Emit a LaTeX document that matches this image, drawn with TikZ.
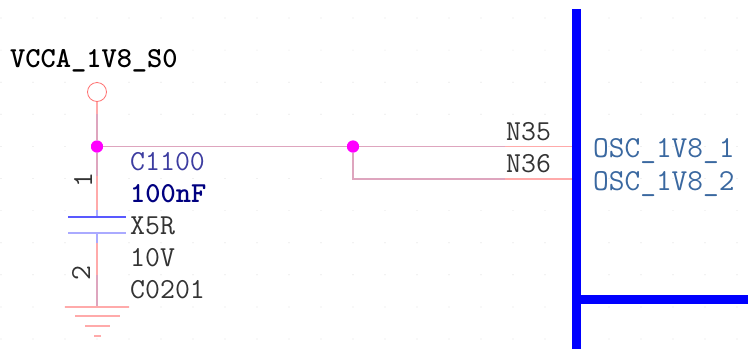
\documentclass[tikz,border=0pt]{standalone}
\definecolor{wirepk}{RGB}{255,170,170}
\definecolor{wiremv}{RGB}{222,165,190}
\definecolor{platewr}{RGB}{170,170,255}
\definecolor{junctmg}{RGB}{255,0,255}
\definecolor{busblue}{RGB}{0,0,255}
\definecolor{portblue}{RGB}{58,104,160}
\definecolor{refblue}{RGB}{60,60,160}
\tikzset{
 wirepink/.style={draw=wirepk,line width=1.5pt},
 wiremauve/.style={draw=wiremv,line width=1.5pt},
 platewire/.style={draw=platewr,line width=1.5pt},
 gndbar/.style={draw=wirepk,line width=2pt},
 busline/.style={draw=busblue,line width=9pt},
 dotnode/.style={circle,fill=junctmg,inner sep=0pt,minimum size=12pt},
 ringnode/.style={circle,draw=red!55!white,fill=white,line width=0.8pt,inner sep=0pt,minimum size=19pt},
 txt/.style={font=\fontsize{29}{30}\selectfont\ttfamily,inner sep=0pt,anchor=base west,text=black!80},
 netlabel/.style={txt,font=\fontsize{29}{30}\selectfont\ttfamily\bfseries,text=black},
 pinlabel/.style={txt,rotate=90,anchor=center},
 portlabel/.style={txt,font=\fontsize{30.5}{31}\selectfont\ttfamily,text=portblue},
}
\begin{document}
\begin{tikzpicture}[x=1pt,y=-1pt]
 \useasboundingbox (0,0) rectangle (748,349);
 % background dots
 \foreach \i in {0,...,23}
  \foreach \j in {0,...,10}
   \fill[black!12] (1+32*\i,18+32.1*\j) circle (0.6);
 % rails
 \coordinate (bustop) at (576.5,9);
 \coordinate (busbot) at (576.5,349);
 \coordinate (busjoin) at (576.5,299.5);
 \coordinate (busend) at (748,299.5);
 \coordinate (n35end) at (572,146.5);
 \coordinate (n36end) at (572,179);
 % power pin and junctions
 \node[ringnode] (vcc) at (97,92) {};
 \node[dotnode] (j1) at (97,146.5) {};
 \node[dotnode] (j2) at (353,146.5) {};
 \coordinate (bend) at (353,179);
 \coordinate (n35a) at (505,146.5);
 \coordinate (n36a) at (505,179);
 % capacitor
 \coordinate (capl1) at (68,217);
 \coordinate (capr1) at (126,217);
 \coordinate (capl2) at (68,233);
 \coordinate (capr2) at (126,233);
 \coordinate (captop) at (97,217);
 \coordinate (capbot) at (97,233);
 \coordinate (stub1) at (97,210);
 \coordinate (stub2) at (97,243);
 \coordinate (lead1) at (97,176);
 \coordinate (lead2) at (97,275);
 \coordinate (vccend) at (97,114);
 % ground
 \coordinate (gnd) at (97,306.5);
 \coordinate (gl1) at (65,306.5);
 \coordinate (gr1) at (129,306.5);
 \coordinate (gl2) at (75,316);
 \coordinate (gr2) at (120,316);
 \coordinate (gl3) at (85,326);
 \coordinate (gr3) at (110,326);
 \coordinate (gl4) at (94,335.5);
 \coordinate (gr4) at (101,335.5);
 % wires
 \draw[wirepink] (vcc)--(vccend);
 \draw[wiremauve] (vccend)--(j1)--(lead1);
 \draw[wirepink] (lead1)--(stub1);
 \draw[platewire] (stub1)--(captop);
 \draw[platewire] (capbot)--(stub2);
 \draw[wirepink] (stub2)--(lead2);
 \draw[wiremauve] (lead2)--(gnd);
 \draw[wiremauve] (j1)--(j2)--(n35a);
 \draw[wirepink] (n35a)--(n35end);
 \draw[wiremauve] (j2)--(bend)--(n36a);
 \draw[wirepink] (n36a)--(n36end);
 \draw[draw=blue!65!white,line width=1.2pt] (capl1)--(capr1);
 \draw[draw=platewr,line width=2pt] (capl2)--(capr2);
 \draw[gndbar] (gl1)--(gr1);
 \draw[gndbar] (gl2)--(gr2);
 \draw[gndbar] (gl3)--(gr3);
 \draw[gndbar] (gl4)--(gr4);
 % bus
 \draw[busline] (bustop)--(busbot);
 \draw[busline] (busjoin)--(busend);
 % redraw junctions over wires
 \node[dotnode] at (j1) {};
 \node[dotnode] at (j2) {};
 % labels
 \node[netlabel] (vccname) at (10,67) {VCCA\_1V8\_S0};
 \node[txt,text=refblue] (refdes) at (130,170) {C1100};
 \node[txt,font=\fontsize{29}{30}\selectfont\ttfamily\bfseries,text=blue!50!black] (capval) at (130,202) {100nF};
 \node[txt] (dielec) at (130,234) {X5R};
 \node[txt] (volt) at (130,266) {10V};
 \node[txt] (pkg) at (130,298) {C0201};
 \node[pinlabel] (pin1) at (83,180) {1};
 \node[pinlabel] (pin2) at (81,273) {2};
 \node[txt] (n35) at (506,140) {N35};
 \node[txt] (n36) at (506,172) {N36};
 \node[portlabel] (osc1) at (593,157) {OSC\_1V8\_1};
 \node[portlabel] (osc2) at (593,190) {OSC\_1V8\_2};
\end{tikzpicture}
\end{document}
